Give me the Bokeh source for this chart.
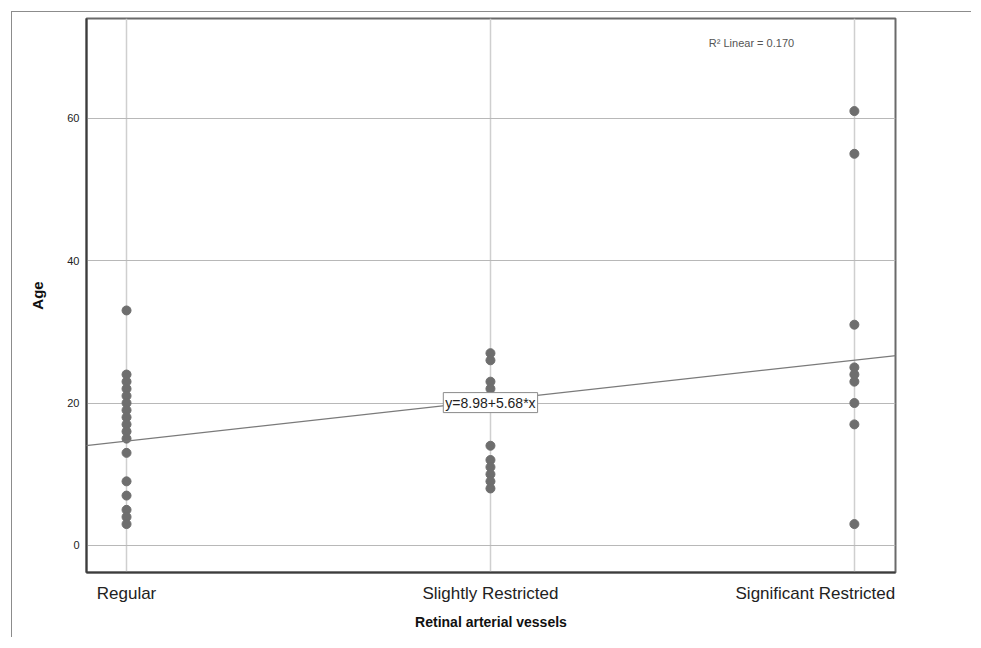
from bokeh.plotting import figure
from bokeh.models import FixedTicker, Label, Slope, Range1d
from bokeh.embed import file_html
from bokeh.resources import INLINE

# ---- data ----
categories = ["Regular", "Slightly Restricted", "Significant Restricted"]
category_codes = [1, 2, 3]
regular_ages = [33, 24, 23, 22, 21, 20, 19, 18, 17, 16, 15, 13, 9, 7, 5, 4, 3]
slightly_ages = [27, 26, 23, 22, 14, 12, 11, 10, 9, 8]
significant_ages = [61, 55, 31, 25, 24, 23, 20, 17, 3]
y_ticks = [0, 20, 40, 60]
fit_intercept = 8.98
fit_slope = 5.68
r_squared = 0.170

xs, ys = [], []
for code, ages in zip(category_codes, [regular_ages, slightly_ages, significant_ages]):
    xs += [code] * len(ages)
    ys += ages

FONT = "Liberation Sans"
x0, x1 = 0.89, 3.113
y0, y1 = -3.8, 74.0

p = figure(width=960, height=626, output_backend="svg", toolbar_location=None,
           x_range=Range1d(x0, x1), y_range=Range1d(y0, y1),
           min_border_left=74, min_border_right=77, min_border_top=6, min_border_bottom=66)
p.styles = {"margin-top": "11px", "margin-left": "11px",
            "border-top": "1px solid #8c8c8c", "border-left": "1px solid #8c8c8c"}

p.background_fill_color = "white"
p.border_fill_color = "white"
p.outline_line_color = "#6a6a6a"
p.outline_line_width = 2

# grids
p.xgrid.ticker = FixedTicker(ticks=category_codes)
p.ygrid.ticker = FixedTicker(ticks=y_ticks)
p.xgrid.grid_line_color = "#cfcfcf"
p.ygrid.grid_line_color = "#b8b8b8"
p.xgrid.grid_line_width = 1.5
p.ygrid.grid_line_width = 1.2

# x axis: the last label is pulled inside the frame, as in the reference
px_per_x = 809 / (x1 - x0)
label_pos = [category_codes[0], category_codes[1], category_codes[2] - 39 / px_per_x]
xa = p.xaxis[0]
xa.ticker = FixedTicker(ticks=label_pos)
xa.major_label_overrides = {pos: name for pos, name in zip(label_pos, categories)}
xa.major_label_text_font = FONT
xa.major_label_text_font_size = "17px"
xa.major_label_text_color = "#222222"
xa.major_label_standoff = 5
xa.major_tick_line_color = None
xa.minor_tick_line_color = None
xa.axis_line_color = "#3c3c3c"
xa.axis_line_width = 2
xa.axis_label = "Retinal arterial vessels"
xa.axis_label_text_font = FONT
xa.axis_label_text_font_style = "bold"
xa.axis_label_text_font_size = "14px"
xa.axis_label_text_color = "#111111"
xa.axis_label_standoff = 8

# y axis
ya = p.yaxis[0]
ya.ticker = FixedTicker(ticks=y_ticks)
ya.major_tick_line_color = None
ya.minor_tick_line_color = None
ya.axis_line_color = "#3c3c3c"
ya.axis_line_width = 2
ya.major_label_text_font = FONT
ya.major_label_text_font_size = "11px"
ya.major_label_text_color = "#222222"
ya.major_label_standoff = 1
ya.axis_label = "Age"
ya.axis_label_text_font = FONT
ya.axis_label_text_font_style = "bold"
ya.axis_label_text_font_size = "15px"
ya.axis_label_text_color = "#111111"
ya.axis_label_standoff = 18

# points
p.scatter(xs, ys, size=9, color="#6e6e6e", line_color="#6e6e6e")

# fit line
p.add_layout(Slope(gradient=fit_slope, y_intercept=fit_intercept,
                   line_color="#7a7a7a", line_width=1.2))

# equation box
xe = category_codes[1]
p.add_layout(Label(x=xe, y=fit_intercept + fit_slope * xe, y_offset=-2,
                   text=f"y={fit_intercept:.2f}+{fit_slope:.2f}*x",
                   text_align="center", text_baseline="middle",
                   text_font=FONT, text_font_size="14px", text_color="#222222",
                   background_fill_color="white", border_line_color="#8a8a8a",
                   border_line_width=1, padding=2))

# R squared
p.add_layout(Label(x=2.6, y=70.6, text=f"R\u00b2 Linear = {r_squared:.3f}",
                   text_align="left", text_baseline="middle",
                   text_font=FONT, text_font_size="11px", text_color="#555555"))

open("out.html", "w").write(file_html(p, INLINE))
